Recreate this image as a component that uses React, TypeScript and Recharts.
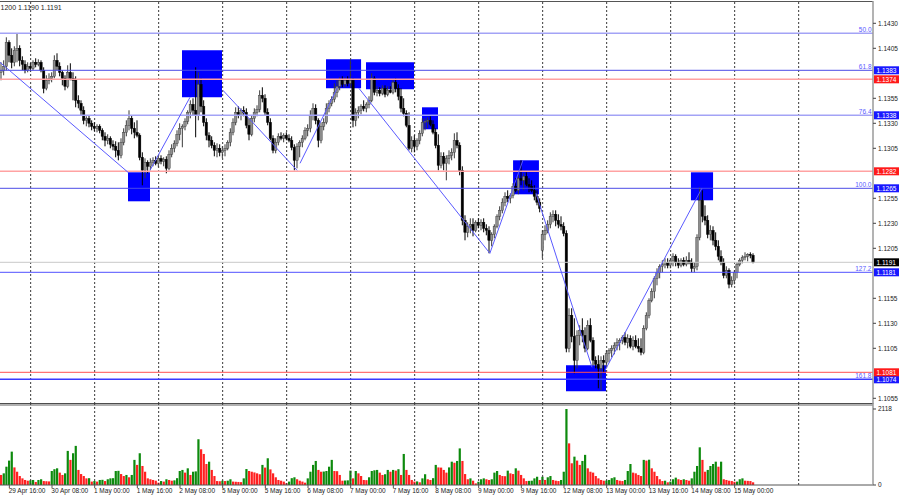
import React from "react";
import { ComposedChart, Bar, XAxis, YAxis, ReferenceLine, ReferenceArea } from "recharts";

type Candle = [number, number, number, number]; // open, high, low, close

// ---------- candles (H1), one array per trading day ----------
const apr29: Candle[] = [
  [1.1381,1.1391,1.1373,1.1383],[1.1383,1.1393,1.1378,1.1387],[1.1387,1.1416,1.1383,1.1411],[1.1411,1.1413,1.1391,1.1398],
  [1.1398,1.1405,1.1385,1.1391],[1.1391,1.1407,1.1387,1.1403],[1.1403,1.1420,1.1391,1.1405],[1.1405,1.1408,1.1387,1.1393],
  [1.1393,1.1397,1.1383,1.1389],[1.1389,1.1393,1.1380,1.1383],[1.1383,1.1391,1.1381,1.1387],
];
const apr30: Candle[] = [
  [1.1387,1.1390,1.1382,1.1385],[1.1385,1.1393,1.1383,1.1391],[1.1391,1.1395,1.1386,1.1389],[1.1389,1.1394,1.1387,1.1391],
  [1.1391,1.1393,1.1381,1.1383],[1.1383,1.1386,1.1360,1.1365],[1.1365,1.1378,1.1363,1.1373],[1.1373,1.1380,1.1369,1.1375],
  [1.1375,1.1381,1.1371,1.1377],[1.1377,1.1398,1.1375,1.1393],[1.1393,1.1400,1.1383,1.1387],[1.1387,1.1391,1.1377,1.1381],
  [1.1381,1.1383,1.1368,1.1375],[1.1375,1.1378,1.1363,1.1367],[1.1367,1.1388,1.1365,1.1381],[1.1381,1.1390,1.1373,1.1375],
  [1.1375,1.1381,1.1353,1.1373],[1.1373,1.1377,1.1346,1.1353],[1.1353,1.1358,1.1345,1.1350],[1.1350,1.1353,1.1338,1.1343],
  [1.1343,1.1347,1.1329,1.1333],[1.1333,1.1337,1.1327,1.1335],[1.1335,1.1338,1.1326,1.1330],[1.1330,1.1333,1.1323,1.1327],
];
const may01: Candle[] = [
  [1.1327,1.1331,1.1322,1.1325],[1.1325,1.1329,1.1321,1.1327],[1.1327,1.1329,1.1320,1.1323],[1.1323,1.1325,1.1313,1.1317],
  [1.1317,1.1321,1.1307,1.1313],[1.1313,1.1319,1.1309,1.1315],[1.1315,1.1317,1.1305,1.1309],[1.1309,1.1313,1.1303,1.1307],
  [1.1307,1.1312,1.1296,1.1303],[1.1303,1.1311,1.1293,1.1298],[1.1298,1.1315,1.1295,1.1311],[1.1311,1.1325,1.1308,1.1321],
  [1.1321,1.1333,1.1317,1.1328],[1.1328,1.1343,1.1323,1.1335],[1.1335,1.1338,1.1319,1.1325],[1.1325,1.1331,1.1315,1.1321],
  [1.1321,1.1333,1.1316,1.1318],[1.1318,1.1320,1.1293,1.1296],[1.1296,1.1301,1.1268,1.1283],[1.1283,1.1295,1.1275,1.1291],
  [1.1291,1.1293,1.1280,1.1287],[1.1287,1.1295,1.1283,1.1291],[1.1291,1.1296,1.1287,1.1293],[1.1293,1.1297,1.1288,1.1290],
];
const may02: Candle[] = [
  [1.1290,1.1298,1.1286,1.1295],[1.1295,1.1298,1.1289,1.1292],[1.1292,1.1296,1.1287,1.1294],[1.1294,1.1297,1.1280,1.1285],
  [1.1285,1.1303,1.1283,1.1299],[1.1299,1.1309,1.1296,1.1305],[1.1305,1.1313,1.1301,1.1310],[1.1310,1.1323,1.1307,1.1319],
  [1.1319,1.1330,1.1313,1.1325],[1.1325,1.1329,1.1306,1.1327],[1.1327,1.1335,1.1323,1.1332],[1.1332,1.1343,1.1329,1.1341],
  [1.1341,1.1353,1.1335,1.1349],[1.1349,1.1355,1.1338,1.1343],[1.1343,1.1386,1.1316,1.1338],[1.1338,1.1381,1.1333,1.1369],
  [1.1369,1.1375,1.1341,1.1347],[1.1347,1.1353,1.1327,1.1331],[1.1331,1.1335,1.1313,1.1318],[1.1318,1.1321,1.1306,1.1313],
  [1.1313,1.1317,1.1305,1.1308],[1.1308,1.1311,1.1297,1.1303],[1.1303,1.1310,1.1296,1.1305],[1.1305,1.1309,1.1297,1.1301],
];
const may05: Candle[] = [
  [1.1301,1.1307,1.1295,1.1303],[1.1303,1.1309,1.1297,1.1305],[1.1305,1.1313,1.1303,1.1311],[1.1311,1.1325,1.1307,1.1321],
  [1.1321,1.1335,1.1318,1.1331],[1.1331,1.1346,1.1328,1.1341],[1.1341,1.1347,1.1335,1.1338],[1.1338,1.1345,1.1333,1.1343],
  [1.1343,1.1347,1.1337,1.1341],[1.1341,1.1345,1.1325,1.1328],[1.1328,1.1335,1.1313,1.1319],[1.1319,1.1338,1.1317,1.1335],
  [1.1335,1.1345,1.1331,1.1341],[1.1341,1.1348,1.1337,1.1344],[1.1344,1.1363,1.1341,1.1358],[1.1358,1.1366,1.1351,1.1355],
  [1.1355,1.1359,1.1338,1.1341],[1.1341,1.1345,1.1328,1.1331],[1.1331,1.1335,1.1313,1.1315],[1.1315,1.1318,1.1300,1.1303],
  [1.1303,1.1315,1.1300,1.1311],[1.1311,1.1320,1.1308,1.1317],[1.1317,1.1321,1.1313,1.1315],[1.1315,1.1320,1.1311,1.1318],
];
const may06: Candle[] = [
  [1.1318,1.1321,1.1313,1.1315],[1.1315,1.1319,1.1311,1.1313],[1.1313,1.1317,1.1303,1.1306],[1.1306,1.1309,1.1283,1.1293],
  [1.1293,1.1310,1.1285,1.1307],[1.1307,1.1313,1.1296,1.1311],[1.1311,1.1318,1.1306,1.1315],[1.1315,1.1326,1.1313,1.1323],
  [1.1323,1.1329,1.1317,1.1325],[1.1325,1.1343,1.1321,1.1338],[1.1338,1.1350,1.1333,1.1345],[1.1345,1.1349,1.1329,1.1333],
  [1.1333,1.1335,1.1306,1.1313],[1.1313,1.1331,1.1310,1.1327],[1.1327,1.1335,1.1323,1.1331],[1.1331,1.1350,1.1329,1.1345],
  [1.1345,1.1353,1.1341,1.1350],[1.1350,1.1357,1.1347,1.1354],[1.1354,1.1370,1.1351,1.1361],[1.1361,1.1373,1.1356,1.1367],
  [1.1367,1.1376,1.1363,1.1373],[1.1373,1.1377,1.1366,1.1369],[1.1369,1.1376,1.1366,1.1373],[1.1373,1.1377,1.1367,1.1370],
];
const may07: Candle[] = [
  [1.1370,1.1393,1.1367,1.1373],[1.1373,1.1375,1.1326,1.1333],[1.1333,1.1345,1.1327,1.1341],[1.1341,1.1347,1.1335,1.1343],
  [1.1343,1.1349,1.1339,1.1347],[1.1347,1.1353,1.1342,1.1345],[1.1345,1.1351,1.1341,1.1349],[1.1349,1.1357,1.1345,1.1353],
  [1.1353,1.1380,1.1351,1.1375],[1.1375,1.1377,1.1358,1.1361],[1.1361,1.1367,1.1357,1.1363],[1.1363,1.1366,1.1357,1.1360],
  [1.1360,1.1368,1.1358,1.1365],[1.1365,1.1368,1.1356,1.1359],[1.1359,1.1367,1.1357,1.1363],[1.1363,1.1367,1.1360,1.1361],
  [1.1361,1.1373,1.1359,1.1371],[1.1371,1.1375,1.1361,1.1365],[1.1365,1.1369,1.1353,1.1357],[1.1357,1.1365,1.1341,1.1345],
  [1.1345,1.1355,1.1337,1.1340],[1.1340,1.1343,1.1326,1.1328],[1.1328,1.1341,1.1303,1.1305],[1.1305,1.1317,1.1301,1.1313],
];
const may08: Candle[] = [
  [1.1313,1.1318,1.1301,1.1307],[1.1307,1.1315,1.1303,1.1313],[1.1313,1.1323,1.1309,1.1320],[1.1320,1.1335,1.1317,1.1331],
  [1.1331,1.1335,1.1323,1.1332],[1.1332,1.1336,1.1325,1.1333],[1.1333,1.1337,1.1327,1.1329],[1.1329,1.1333,1.1319,1.1321],
  [1.1321,1.1325,1.1305,1.1308],[1.1308,1.1319,1.1283,1.1288],[1.1288,1.1301,1.1285,1.1297],[1.1297,1.1301,1.1283,1.1290],
  [1.1290,1.1298,1.1273,1.1295],[1.1295,1.1303,1.1289,1.1298],[1.1298,1.1305,1.1293,1.1301],[1.1301,1.1320,1.1295,1.1313],
  [1.1313,1.1321,1.1305,1.1308],[1.1308,1.1311,1.1278,1.1283],[1.1283,1.1287,1.1228,1.1233],[1.1233,1.1238,1.1213,1.1221],
  [1.1221,1.1231,1.1216,1.1227],[1.1227,1.1235,1.1220,1.1229],[1.1229,1.1235,1.1217,1.1223],[1.1223,1.1233,1.1221,1.1231],
];
const may09: Candle[] = [
  [1.1231,1.1235,1.1225,1.1228],[1.1228,1.1234,1.1223,1.1231],[1.1231,1.1235,1.1221,1.1225],[1.1225,1.1229,1.1218,1.1223],
  [1.1223,1.1227,1.1200,1.1213],[1.1213,1.1221,1.1207,1.1219],[1.1219,1.1229,1.1215,1.1227],[1.1227,1.1239,1.1225,1.1237],
  [1.1237,1.1247,1.1233,1.1243],[1.1243,1.1255,1.1240,1.1251],[1.1251,1.1261,1.1247,1.1257],[1.1257,1.1263,1.1251,1.1255],
  [1.1255,1.1260,1.1250,1.1258],[1.1258,1.1270,1.1255,1.1267],[1.1267,1.1275,1.1261,1.1263],[1.1263,1.1278,1.1259,1.1275],
  [1.1275,1.1293,1.1268,1.1273],[1.1273,1.1280,1.1263,1.1277],[1.1277,1.1281,1.1267,1.1269],[1.1269,1.1275,1.1261,1.1267],
  [1.1267,1.1273,1.1261,1.1263],[1.1263,1.1268,1.1253,1.1257],[1.1257,1.1263,1.1248,1.1251],[1.1251,1.1255,1.1241,1.1245],
];
const may12: Candle[] = [
  [1.1203,1.1223,1.1195,1.1219],[1.1219,1.1228,1.1213,1.1223],[1.1223,1.1233,1.1220,1.1229],[1.1229,1.1241,1.1225,1.1237],
  [1.1237,1.1243,1.1231,1.1239],[1.1239,1.1243,1.1227,1.1233],[1.1233,1.1239,1.1225,1.1229],[1.1229,1.1237,1.1223,1.1227],
  [1.1227,1.1231,1.1217,1.1220],[1.1220,1.1223,1.1101,1.1105],[1.1105,1.1145,1.1101,1.1138],[1.1138,1.1145,1.1111,1.1117],
  [1.1117,1.1135,1.1080,1.1093],[1.1093,1.1123,1.1085,1.1118],[1.1118,1.1128,1.1108,1.1123],[1.1123,1.1135,1.1111,1.1118],
  [1.1118,1.1126,1.1101,1.1105],[1.1105,1.1133,1.1103,1.1128],[1.1128,1.1135,1.1111,1.1113],[1.1113,1.1116,1.1088,1.1093],
  [1.1093,1.1097,1.1085,1.1089],[1.1089,1.1098,1.1065,1.1085],[1.1085,1.1097,1.1063,1.1093],[1.1093,1.1098,1.1081,1.1091],
];
const may13: Candle[] = [
  [1.1091,1.1103,1.1085,1.1100],[1.1100,1.1105,1.1091,1.1103],[1.1103,1.1108,1.1096,1.1105],[1.1105,1.1111,1.1099,1.1108],
  [1.1108,1.1115,1.1103,1.1111],[1.1111,1.1115,1.1103,1.1113],[1.1113,1.1118,1.1109,1.1116],[1.1116,1.1121,1.1108,1.1111],
  [1.1111,1.1119,1.1105,1.1115],[1.1115,1.1118,1.1105,1.1107],[1.1107,1.1117,1.1103,1.1113],[1.1113,1.1118,1.1105,1.1107],
  [1.1107,1.1115,1.1101,1.1105],[1.1105,1.1115,1.1098,1.1101],[1.1101,1.1128,1.1099,1.1125],[1.1125,1.1141,1.1123,1.1138],
  [1.1138,1.1155,1.1135,1.1153],[1.1153,1.1165,1.1151,1.1162],[1.1162,1.1177,1.1155,1.1175],[1.1175,1.1185,1.1168,1.1181],
  [1.1181,1.1189,1.1175,1.1187],[1.1187,1.1193,1.1181,1.1189],[1.1189,1.1195,1.1185,1.1191],[1.1191,1.1195,1.1185,1.1188],
];
const may14: Candle[] = [
  [1.1188,1.1195,1.1185,1.1193],[1.1193,1.1200,1.1187,1.1197],[1.1197,1.1199,1.1187,1.1191],[1.1191,1.1195,1.1185,1.1188],
  [1.1188,1.1195,1.1186,1.1193],[1.1193,1.1196,1.1187,1.1189],[1.1189,1.1197,1.1187,1.1193],[1.1193,1.1201,1.1189,1.1191],
  [1.1191,1.1195,1.1181,1.1185],[1.1185,1.1191,1.1181,1.1187],[1.1187,1.1219,1.1183,1.1216],[1.1216,1.1266,1.1213,1.1253],
  [1.1253,1.1263,1.1231,1.1237],[1.1237,1.1248,1.1228,1.1233],[1.1233,1.1238,1.1215,1.1219],[1.1219,1.1228,1.1213,1.1223],
  [1.1223,1.1227,1.1208,1.1213],[1.1213,1.1221,1.1203,1.1207],[1.1207,1.1213,1.1193,1.1197],[1.1197,1.1203,1.1188,1.1191],
  [1.1191,1.1195,1.1175,1.1178],[1.1178,1.1187,1.1175,1.1183],[1.1183,1.1185,1.1165,1.1169],[1.1169,1.1177,1.1166,1.1173],
];
const may15: Candle[] = [
  [1.1173,1.1183,1.1169,1.1181],[1.1181,1.1191,1.1175,1.1189],[1.1189,1.1195,1.1187,1.1193],[1.1193,1.1198,1.1190,1.1196],
  [1.1196,1.1201,1.1193,1.1197],[1.1197,1.1200,1.1192,1.1199],[1.1199,1.1201,1.1195,1.1198],[1.1198,1.1200,1.1190,1.1191],
];

// ---------- tick volumes, one array per trading day ----------
const volApr29 = [280, 325, 510, 680, 930, 490, 370, 250, 185, 140, 120];
const volApr30 = [130, 140, 85, 140, 160, 110, 105, 100, 390, 440, 465, 345, 280, 325, 950, 700, 885, 1090, 420, 305, 250, 185, 190, 95];
const volMay01 = [110, 95, 140, 145, 110, 160, 185, 190, 390, 395, 305, 250, 280, 215, 280, 700, 560, 885, 530, 370, 185, 160, 140, 120];
const volMay02 = [65, 110, 95, 160, 140, 120, 130, 190, 390, 420, 345, 465, 280, 370, 380, 1275, 995, 865, 585, 650, 420, 250, 110, 105];
const volMay05 = [120, 110, 120, 160, 95, 90, 85, 80, 185, 445, 390, 370, 350, 325, 300, 560, 485, 745, 435, 325, 215, 140, 120, 95];
const volMay06 = [50, 95, 190, 215, 160, 120, 95, 65, 185, 370, 560, 670, 420, 370, 375, 390, 510, 700, 390, 385, 280, 120, 125, 130];
const volMay07 = [400, 185, 390, 325, 250, 140, 135, 215, 390, 410, 420, 345, 280, 300, 420, 370, 420, 400, 440, 280, 865, 420, 280, 140];
const volMay08 = [95, 100, 75, 185, 300, 160, 140, 190, 560, 490, 485, 420, 345, 490, 650, 620, 670, 1020, 670, 305, 160, 185, 120, 45];
const volMay09 = [90, 160, 185, 160, 140, 160, 345, 390, 280, 250, 245, 400, 325, 305, 465, 400, 280, 185, 110, 115, 120, 185, 230, 140];
const volMay12 = [230, 140, 215, 250, 140, 120, 110, 140, 370, 2118, 1160, 605, 790, 680, 560, 670, 840, 465, 370, 345, 250, 185, 140, 120];
const volMay13 = [125, 140, 190, 215, 140, 120, 110, 140, 390, 585, 345, 325, 280, 250, 700, 680, 705, 465, 370, 250, 160, 110, 120, 75];
const volMay14 = [95, 160, 205, 160, 140, 160, 140, 120, 185, 370, 530, 1050, 700, 370, 420, 530, 585, 650, 510, 650, 160, 140, 120, 110];
const volMay15 = [90, 95, 160, 185, 120, 115, 110, 75];

// ---------- axis / annotation values ----------
const timeLabels = ["29 Apr 16:00", "30 Apr 08:00", "1 May 00:00", "1 May 16:00", "2 May 08:00", "5 May 00:00",
  "5 May 16:00", "6 May 08:00", "7 May 00:00", "7 May 16:00", "8 May 08:00", "9 May 00:00", "9 May 16:00",
  "12 May 08:00", "13 May 00:00", "13 May 16:00", "14 May 08:00", "15 May 00:00"];
const timeLabelBars = [3, 19, 35, 51, 67, 83, 99, 115, 131, 147, 163, 179, 195, 211, 227, 243, 259, 275];
const dayStartBars = [11, 35, 59, 83, 107, 131, 155, 179, 203, 227, 251, 275, 299];
const priceTicks = [1.143, 1.1405, 1.1355, 1.133, 1.1305, 1.1255, 1.123, 1.1205, 1.1155, 1.113, 1.1105, 1.1055];
const volumeTicks = [0, 2118];

const fibLevels = [
  { name: "50.0", price: 1.1420, tag: false, color: "#a3a3f6", width: 1.6 },
  { name: "61.8", price: 1.1383, tag: true, color: "#4c4ce6", width: 1 },
  { name: "76.4", price: 1.1338, tag: true, color: "#a3a3f6", width: 1.6 },
  { name: "100.0", price: 1.1265, tag: true, color: "#4c4ce6", width: 1 },
  { name: "127.2", price: 1.1181, tag: true, color: "#5050ff", width: 1 },
  { name: "161.8", price: 1.1074, tag: true, color: "#3a3aff", width: 1.5 },
];
const redLevels = [
  { price: 1.1374, color: "#ffa2a2", width: 1.6 },
  { price: 1.1282, color: "#ffa2a2", width: 1.6 },
  { price: 1.1081, color: "#ff5050", width: 1 },
];
const lastPrice = 1.1191;
const headerText = "1200 1.1190 1.1191";

// boxes: [barFrom, barTo, priceTop, priceBottom]
const boxes: [number, number, number, number][] = [
  [48.0, 56.25, 1.1281, 1.1252],
  [68.25, 83.25, 1.1403, 1.1356],
  [122.25, 135.4, 1.1394, 1.1365],
  [137.25, 155.25, 1.1391, 1.1364],
  [158.25, 164.25, 1.1346, 1.1324],
  [192.4, 202.1, 1.1293, 1.1259],
  [259.1, 267.4, 1.1281, 1.1253],
  [212.25, 227.25, 1.1088, 1.1062],
];
// zigzag legs: [bar1, price1, bar2, price2]
const zigzag: [number, number, number, number][] = [
  [0, 1.1391, 48.0, 1.1281],
  [56.25, 1.1283, 71.25, 1.1356],
  [83.6, 1.1363, 111.4, 1.1283],
  [112.5, 1.1290, 126.4, 1.1365],
  [134.6, 1.1365, 183.7, 1.1200],
  [183.7, 1.1200, 196.1, 1.1293],
  [201.0, 1.1260, 222.0, 1.1086],
  [226.9, 1.1083, 263.2, 1.1265],
];

// ---------- build rows ----------
const candles: Candle[] = [apr29, apr30, may01, may02, may05, may06, may07, may08, may09, may12, may13, may14, may15].flat();
const volumes: number[] = [volApr29, volApr30, volMay01, volMay02, volMay05, volMay06, volMay07, volMay08, volMay09, volMay12, volMay13, volMay14, volMay15].flat();
const rows = candles.map(([o, h, l, c], i) => ({
  x: i + 0.5,
  o, h, l, c,
  range: [l, h],
  vol: volumes[i],
  up: i > 0 && volumes[i] > volumes[i - 1],
}));

const X_MAX = 327.375;
const P_MAX = 1.14523;
const P_MIN = 1.10493;
const V_MAX = 2285;
const FONT = "'Liberation Sans', Arial, sans-serif";
const FS = 6.5;

const CandleShape = (props: any) => {
  const { x, width, payload } = props;
  let { y, height } = props;
  if (x == null || !payload) return null;
  if (height < 0) { y += height; height = -height; }
  const { o, h, l, c } = payload;
  const cx = x + width / 2;
  const k = h > l ? height / (h - l) : 0;
  const py = (p: number) => y + (h - p) * k;
  const top = py(Math.max(o, c));
  const bot = py(Math.min(o, c));
  const bull = c >= o;
  return (
    <g>
      <line x1={cx} x2={cx} y1={y} y2={y + height} stroke={bull ? "#3a3a3a" : "#000"} strokeWidth={1} />
      <rect x={cx - 1.2} y={top} width={2.4} height={Math.max(bot - top, 0.9)}
        fill={bull ? "#8e8e8e" : "#000"} stroke={bull ? "#3a3a3a" : "#000"} strokeWidth={0.45} />
    </g>
  );
};

const VolShape = (props: any) => {
  const { x, y, width, height, payload } = props;
  if (x == null || !payload || !height) return null;
  return <rect x={x} y={y} width={width} height={height} fill={payload.up ? "#0d8a0d" : "#ff2020"} />;
};

const levelLabel = (name: string | null, tag: string | null, bg: string, textColor: string) => (props: any) => {
  const vb = props.viewBox || {};
  const right = (vb.x || 0) + (vb.width || 0);
  const y = vb.y || 0;
  return (
    <g>
      {name && (
        <text x={right - 1.5} y={y - 1.5} textAnchor="end" fontSize={FS} fill={textColor} fontFamily={FONT}>{name}</text>
      )}
      {tag && (
        <g>
          <rect x={right + 1} y={y - 4} width={25} height={8} fill={bg} />
          <text x={right + 3.5} y={y} dy="0.35em" fontSize={FS} fill="#fff" fontFamily={FONT}>{tag}</text>
        </g>
      )}
    </g>
  );
};

const headerLabel = (props: any) => {
  const vb = props.viewBox || {};
  return <text x={(vb.x || 0) + 0.5} y={(vb.y || 0) + 8.5} fontSize={7} fill="#222" fontFamily={FONT}>{headerText}</text>;
};

const TimeTick = (props: any) => {
  const { x, y, payload } = props;
  const idx = timeLabelBars.findIndex((b) => Math.abs(b + 0.5 - payload.value) < 0.01);
  return (
    <text x={x - 0.7} y={y} dy="0.71em" textAnchor="start" fontSize={FS} fill="#222" fontFamily={FONT}>
      {idx >= 0 ? timeLabels[idx] : ""}
    </text>
  );
};

const abs = (top: number): React.CSSProperties => ({ position: "absolute", left: 0, top });

export default function App() {
  const xAxisHidden = <XAxis dataKey="x" type="number" domain={[0, X_MAX]} hide allowDataOverflow />;
  return (
    <div style={{ position: "absolute", left: 0, top: 0, width: 900, height: 500, background: "#fff", overflow: "hidden" }}>
      {/* layer 1: boxes + day grid */}
      <div style={abs(0)}>
        <ComposedChart width={900} height={404} data={rows} margin={{ top: 1, right: 27, left: 0, bottom: 0 }}>
          {xAxisHidden}
          <YAxis domain={[P_MIN, P_MAX]} hide allowDataOverflow />
          {boxes.map(([x1, x2, y1, y2], i) => (
            <ReferenceArea key={"b" + i} x1={x1} x2={x2} y1={y1} y2={y2} fill="#0000ff" fillOpacity={1} stroke="none" ifOverflow="visible" />
          ))}
          {dayStartBars.map((b) => (
            <ReferenceLine key={"g" + b} x={b + 0.5} stroke="#3a3a3a" strokeDasharray="2 2" strokeWidth={1} />
          ))}
        </ComposedChart>
      </div>
      {/* layer 2: candles */}
      <div style={abs(0)}>
        <ComposedChart width={900} height={404} data={rows} margin={{ top: 1, right: 27, left: 0, bottom: 0 }}>
          {xAxisHidden}
          <YAxis domain={[P_MIN, P_MAX]} hide allowDataOverflow />
          <Bar dataKey="range" barSize={2} shape={CandleShape} isAnimationActive={false} />
        </ComposedChart>
      </div>
      {/* layer 3: levels, zigzag, price axis */}
      <div style={abs(0)}>
        <ComposedChart width={900} height={404} data={rows} margin={{ top: 1, right: 0, left: 0, bottom: 0 }}>
          {xAxisHidden}
          <YAxis orientation="right" width={27} domain={[P_MIN, P_MAX]} ticks={priceTicks} interval={0}
            allowDataOverflow tickSize={3} tickMargin={2}
            tick={{ fontSize: FS, fill: "#1a1a1a", fontFamily: FONT }}
            tickFormatter={(v: number) => v.toFixed(4)}
            axisLine={{ stroke: "#9a9a9a", strokeWidth: 1.5 }} tickLine={{ stroke: "#444" }} />
          <ReferenceLine y={P_MAX - 0.00005} stroke="#555" strokeWidth={1} label={headerLabel} />
          <ReferenceLine y={lastPrice} stroke="#c8c8c8" strokeWidth={1} label={levelLabel(null, lastPrice.toFixed(4), "#000", "#000")} />
          {fibLevels.map((f) => (
            <ReferenceLine key={f.name} y={f.price} stroke={f.color} strokeWidth={f.width}
              label={levelLabel(f.name, f.tag ? f.price.toFixed(4) : null, "#1818ff", "#5a5aff")} />
          ))}
          {redLevels.map((r) => (
            <ReferenceLine key={"r" + r.price} y={r.price} stroke={r.color} strokeWidth={r.width}
              label={levelLabel(null, r.price.toFixed(4), "#ff1a1a", "#f00")} />
          ))}
          {zigzag.map(([x1, y1, x2, y2], i) => (
            <ReferenceLine key={"z" + i} segment={[{ x: x1, y: y1 }, { x: x2, y: y2 }]} stroke="#5a5aff" strokeWidth={1} />
          ))}
        </ComposedChart>
      </div>
      {/* volume panel */}
      <div style={abs(402)}>
        <ComposedChart width={900} height={98} data={rows} margin={{ top: 1, right: 0, left: 0, bottom: 0 }}>
          <XAxis dataKey="x" type="number" domain={[0, X_MAX]} allowDataOverflow height={15}
            ticks={timeLabelBars.map((b) => b + 0.5)} interval={0} tickSize={3} tickMargin={0}
            tick={<TimeTick />} axisLine={{ stroke: "#555" }} tickLine={{ stroke: "#555" }} />
          <YAxis orientation="right" width={27} domain={[0, V_MAX]} ticks={volumeTicks} interval={0} allowDataOverflow
            tickSize={3} tickMargin={2} tick={{ fontSize: FS, fill: "#1a1a1a", fontFamily: FONT }}
            axisLine={{ stroke: "#9a9a9a", strokeWidth: 1.5 }} tickLine={{ stroke: "#444" }} />
          <ReferenceLine y={V_MAX - 14} stroke="#4d4d4d" strokeWidth={1.2} />
          <ReferenceLine y={V_MAX - 56} stroke="#b0b0b0" strokeWidth={2} />
          {dayStartBars.map((b) => (
            <ReferenceLine key={"vg" + b} x={b + 0.5} stroke="#3a3a3a" strokeDasharray="2 2" strokeWidth={1} />
          ))}
          <Bar dataKey="vol" barSize={2.2} shape={VolShape} isAnimationActive={false} />
        </ComposedChart>
      </div>
    </div>
  );
}
